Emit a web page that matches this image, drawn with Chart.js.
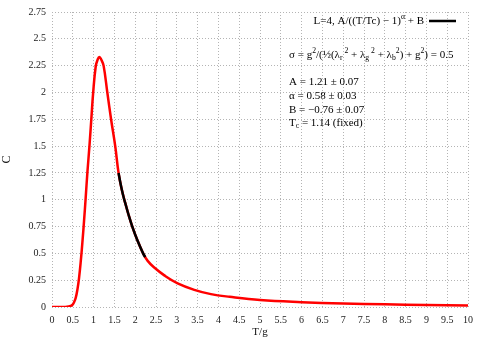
<!DOCTYPE html>
<html>
<head>
<meta charset="utf-8">
<script src="https://cdn.jsdelivr.net/npm/chart.js@4.4.0/dist/chart.umd.min.js"></script>
<style>
  html, body { margin: 0; padding: 0; background: #fff; }
</style>
</head>
<body>
<canvas id="calorEspecifico" width="485" height="339"></canvas>
<script>
// curva medida (vermelha)
const tData = [0, 0.2, 0.32, 0.4, 0.45, 0.49, 0.53, 0.57, 0.61, 0.65, 0.69, 0.73, 0.77, 0.81, 0.85, 0.9, 0.945, 0.99, 1.05, 1.1, 1.14, 1.18, 1.24, 1.33, 1.42, 1.52, 1.6,
  1.68, 1.76, 1.84, 1.93, 2.05, 2.19, 2.3, 2.45, 2.7, 3.02, 3.42, 3.82, 4.27, 5, 6, 7, 8, 9, 10];
const cData = [0, 0, 0, 0.004, 0.01, 0.02, 0.045, 0.085, 0.16, 0.27, 0.42, 0.6, 0.8, 1.02, 1.25, 1.5, 1.75, 2.0, 2.24, 2.31, 2.33, 2.31, 2.25, 2.0, 1.75, 1.5, 1.25,
  1.09, 0.97, 0.86, 0.75, 0.625, 0.5, 0.43, 0.37, 0.295, 0.22, 0.16, 0.12, 0.095, 0.065, 0.045, 0.032, 0.025, 0.019, 0.015];

// ajuste (preto)
const tFit = [1.6, 1.64, 1.68, 1.72, 1.76, 1.84, 1.93, 2.05, 2.19, 2.24];
const cFit = [1.25, 1.165, 1.09, 1.025, 0.97, 0.86, 0.75, 0.625, 0.5, 0.465];

const xTicks = [0, 0.5, 1, 1.5, 2, 2.5, 3, 3.5, 4, 4.5, 5, 5.5, 6, 6.5, 7, 7.5, 8, 8.5, 9, 9.5, 10];
const yTicks = [0, 0.25, 0.5, 0.75, 1, 1.25, 1.5, 1.75, 2, 2.25, 2.5, 2.75];

const fonte = "'Liberation Serif', 'Times New Roman', serif";
Chart.defaults.font.family = fonte;
Chart.defaults.font.size = 10;
Chart.defaults.color = '#222';

// texto com sub/sobrescrito: partes [texto, 0 normal | 1 sup | -1 sub]
function larguraRica(ctx, partes, tam) {
  let w = 0;
  partes.forEach(p => {
    ctx.font = (p[1] ? tam * 0.7 : tam) + 'px ' + fonte;
    w += ctx.measureText(p[0]).width;
  });
  return w;
}
function textoRico(ctx, x, y, partes, tam) {
  ctx.textBaseline = 'middle';
  ctx.textAlign = 'left';
  partes.forEach(p => {
    ctx.font = (p[1] ? tam * 0.7 : tam) + 'px ' + fonte;
    let dy = p[1] === 1 ? -tam * 0.4 : (p[1] === -1 ? tam * 0.3 : 0);
    ctx.fillText(p[0], x, y + dy);
    x += ctx.measureText(p[0]).width;
  });
}

const anotacoes = {
  id: 'anotacoes',
  afterDraw(chart) {
    const ctx = chart.ctx;
    ctx.save();
    ctx.fillStyle = '#000';
    const tam = 11;
    const leg = [['L=4, A/((T/Tc) \u2212 1)', 0], ['\u03b1', 1], [' + B', 0]];
    const w = larguraRica(ctx, leg, tam);
    textoRico(ctx, 424 - w, 21, leg, tam);
    ctx.strokeStyle = '#000';
    ctx.lineWidth = 2.5;
    ctx.beginPath();
    ctx.moveTo(429, 21);
    ctx.lineTo(456, 21);
    ctx.stroke();

    textoRico(ctx, 289, 55, [
      ['\u03c3 = g', 0], ['2', 1], ['/(\u00bd(\u03bb', 0], ['r', -1], [' 2', 1],
      [' + \u03bb', 0], ['g', -1], [' 2', 1], [' + \u03bb', 0], ['b', -1], ['2', 1],
      [') + g', 0], ['2', 1], [') = 0.5', 0]
    ], tam);
    textoRico(ctx, 289, 82, [['A = 1.21 \u00b1 0.07', 0]], tam);
    textoRico(ctx, 289, 96, [['\u03b1 = 0.58 \u00b1 0.03', 0]], tam);
    textoRico(ctx, 289, 110, [['B = \u22120.76 \u00b1 0.07', 0]], tam);
    textoRico(ctx, 289, 123, [['T', 0], ['c', -1], [' = 1.14 (fixed)', 0]], tam);
    ctx.restore();
  }
};

const grade = { color: '#b4b4b4', drawTicks: false, lineWidth: 1 };

new Chart(document.getElementById('calorEspecifico'), {
  type: 'line',
  data: {
    datasets: [{
      label: 'L=4, A/((T/Tc) - 1)^a + B',
      data: tFit.map((t, i) => ({ x: t, y: cFit[i] })),
      borderColor: '#000000',
      borderWidth: 2.5,
      pointRadius: 0,
      tension: 0.4,
      fill: false
    }, {
      label: 'dados',
      data: tData.map((t, i) => ({ x: t, y: cData[i] })),
      borderColor: '#ff0000',
      borderWidth: 2.5,
      pointRadius: 0,
      tension: 0.4,
      fill: false
    }]
  },
  options: {
    responsive: false,
    animation: false,
    layout: { padding: { top: 11, right: 17, left: 0, bottom: 0 } },
    plugins: {
      legend: { display: false },
      tooltip: { enabled: false }
    },
    scales: {
      x: {
        type: 'linear',
        min: 0,
        max: 10,
        afterBuildTicks: s => { s.ticks = xTicks.map(v => ({ value: v })); },
        afterFit: s => { s.height = 32; },
        ticks: { padding: 7, callback: v => String(v), maxRotation: 0, autoSkip: false },
        grid: grade,
        border: { display: false, dash: [1, 2] },
        title: { display: true, text: 'T/g', font: { size: 11 }, padding: 0, color: '#111' }
      },
      y: {
        min: 0,
        max: 2.75,
        afterBuildTicks: s => { s.ticks = yTicks.map(v => ({ value: v })); },
        afterFit: s => { s.width = 52; },
        ticks: { padding: 6, callback: v => String(v), autoSkip: false },
        grid: grade,
        border: { display: false, dash: [1, 2] },
        title: { display: true, text: 'C', font: { size: 12 }, padding: 0, color: '#111' }
      }
    }
  },
  plugins: [anotacoes]
});
</script>
</body>
</html>
